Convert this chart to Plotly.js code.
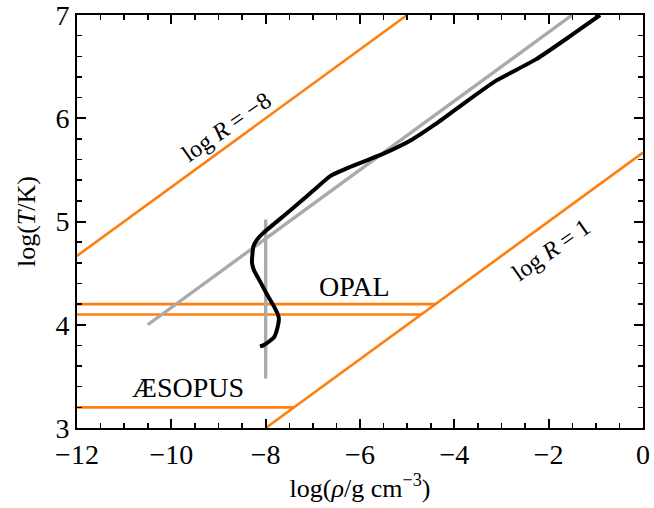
<!DOCTYPE html>
<html><head><meta charset="utf-8">
<script src="https://cdn.plot.ly/plotly-3.0.1.min.js"></script>
<style>body{margin:0;background:#fff}#c{width:654px;height:508px}</style>
</head><body><div id="c"></div>
<script>
// log R = -8 boundary
const lineRm8X = [-12, -5];
const lineRm8Y = [4.667, 7];
// log R = 1 boundary
const lineR1X = [-8, 0];
const lineR1Y = [3, 5.667];
// OPAL table edges
const opalHiX = [-12, -4.4];
const opalHiY = [4.2, 4.2];
const opalLoX = [-12, -4.7];
const opalLoY = [4.1, 4.1];
// AESOPUS table edge
const aesX = [-12, -7.4];
const aesY = [3.2, 3.2];
// gray reference lines
const grayDiagX = [-10.5, -1.5];
const grayDiagY = [4.0, 7.0];
const grayVertX = [-8, -8];
const grayVertY = [3.48, 5.02];
// stellar profile
const profX = [-8.12, -8.05, -7.92, -7.82, -7.75, -7.72, -7.75, -7.84, -7.98, -8.12, -8.25, -8.29, -8.28, -8.26, -8.19, -8.05, -7.84, -7.55, -7.24, -6.99, -6.63, -6.20, -5.49, -4.91, -4.41, -3.84, -3.13, -2.27, -1.56, -0.91];
const profY = [3.79, 3.80, 3.84, 3.88, 3.97, 4.06, 4.11, 4.19, 4.30, 4.42, 4.53, 4.60, 4.69, 4.76, 4.82, 4.89, 4.97, 5.08, 5.20, 5.30, 5.44, 5.53, 5.66, 5.79, 5.94, 6.13, 6.36, 6.57, 6.79, 7.00];

const orange = '#ff7f0e', gray = '#aaaaaa';
const ln = (x, y, color, width) => ({x, y, mode:'lines', type:'scatter', line:{color, width}, hoverinfo:'skip'});
const traces = [
  ln(lineRm8X, lineRm8Y, orange, 2.6),
  ln(lineR1X, lineR1Y, orange, 2.6),
  ln(opalHiX, opalHiY, orange, 2.6),
  ln(opalLoX, opalLoY, orange, 2.6),
  ln(aesX, aesY, orange, 2.6),
  ln(grayDiagX, grayDiagY, gray, 3.4),
  ln(grayVertX, grayVertY, gray, 3.4),
  {x:profX, y:profY, mode:'lines', type:'scatter', line:{color:'#000', width:4, shape:'spline', smoothing:0.5}, hoverinfo:'skip'}
];
const F = 'Liberation Serif, Times New Roman, serif';
const axisCommon = {
  showgrid:false, zeroline:false, showline:true, linecolor:'#000', linewidth:2,
  mirror:'ticks', ticks:'inside', ticklen:9, tickwidth:2, tickcolor:'#000',
  ticklabeloverflow:'allow',
  tickfont:{family:F, size:28, color:'#000'},
  minor:{ticks:'inside', ticklen:5, tickwidth:1.5, tickcolor:'#000', showgrid:false}
};
const layout = {
  width:654, height:508, showlegend:false,
  paper_bgcolor:'#fff', plot_bgcolor:'#fff',
  margin:{l:77, r:11, t:15, b:80},
  xaxis: Object.assign({}, axisCommon, {range:[-12,0], dtick:2, tick0:0,
    minor:Object.assign({}, axisCommon.minor, {dtick:0.5}),
    title:{text:'log(<i>ρ</i>/g cm<sup>−3</sup>)', font:{family:F, size:26, color:'#000'}, standoff:10}}),
  yaxis: Object.assign({}, axisCommon, {range:[3,7], dtick:1, tick0:0,
    minor:Object.assign({}, axisCommon.minor, {dtick:0.2}),
    title:{text:'log(<i>T</i>/K)', font:{family:F, size:26, color:'#000'}, standoff:12}}),
  annotations:[
    {x:-8.84, y:5.92, text:'log <i>R</i> = −8', showarrow:false, textangle:-35, font:{family:F, size:24, color:'#000'}},
    {x:-1.95, y:4.72, text:'log <i>R</i> = 1', showarrow:false, textangle:-35, font:{family:F, size:24, color:'#000'}},
    {x:-6.11, y:4.37, text:'OPAL', showarrow:false, font:{family:F, size:28, color:'#000'}},
    {x:-9.65, y:3.39, text:'ÆSOPUS', showarrow:false, font:{family:F, size:28, color:'#000'}}
  ]
};
Plotly.newPlot('c', traces, layout, {staticPlot:true});
</script></body></html>
